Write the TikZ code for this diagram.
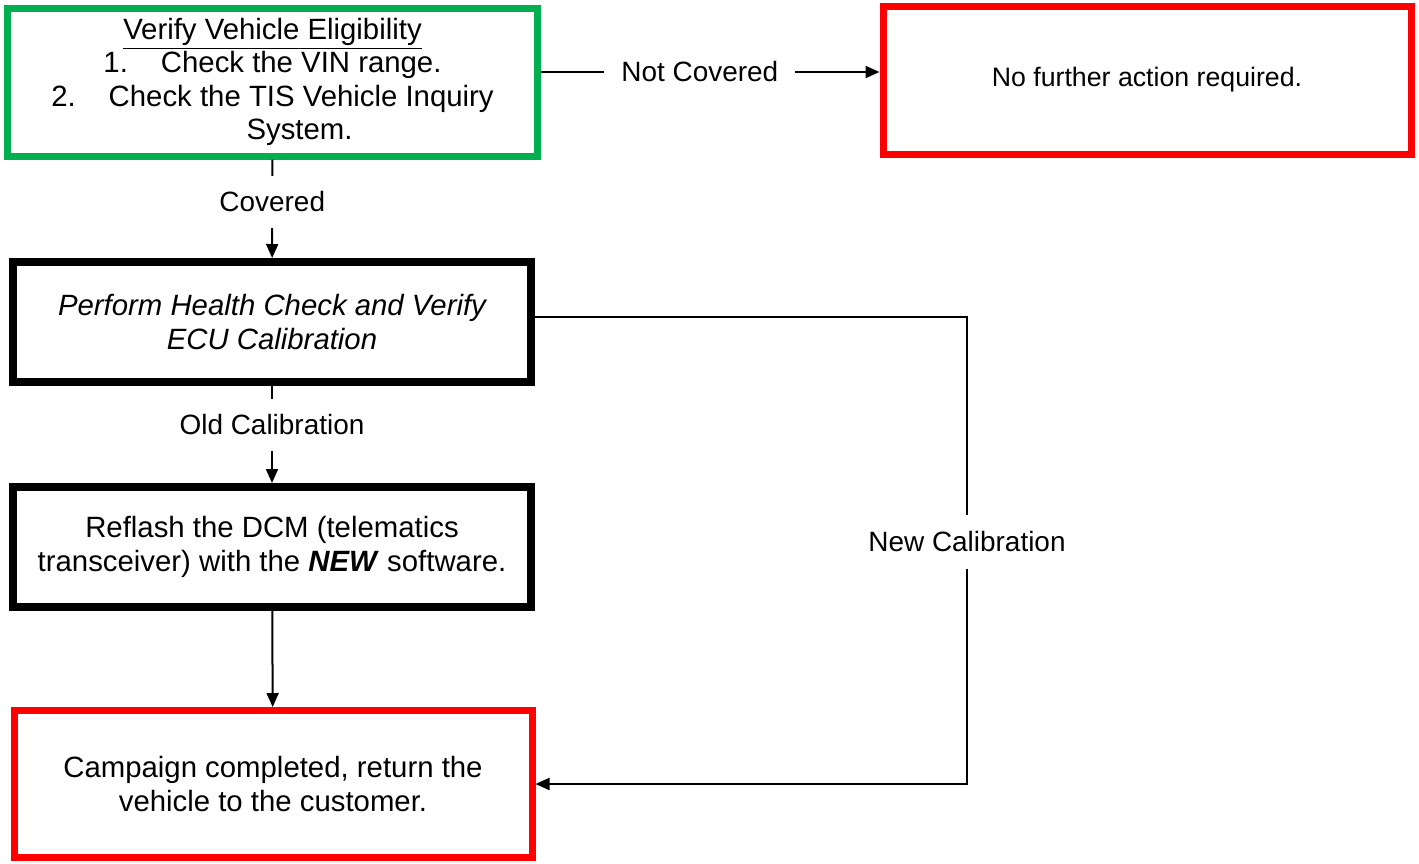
\documentclass[tikz,border=0pt]{standalone}
\usepackage{fontspec}
\setmainfont{Liberation Sans}
\usetikzlibrary{arrows.meta}
\definecolor{okgreen}{RGB}{0,176,80}
\definecolor{stopred}{RGB}{255,0,0}

\begin{document}
\begin{tikzpicture}[>={Triangle[length=0.28cm,width=0.24cm]}, font=\fontsize{15.9}{19}\selectfont,
  box/.style={draw, align=center, inner sep=0pt, font=\fontsize{16.7}{19}\selectfont},
  greenbox/.style={box, draw=okgreen, line width=0.14cm},
  redbox/.style={box, draw=stopred, line width=0.14cm},
  blackbox/.style={box, draw=black, line width=0.16cm, minimum width=10.36cm, minimum height=2.4cm},
  flow/.style={line width=0.04cm},
  lbl/.style={fill=white, inner xsep=0.34cm, inner ysep=0.32cm}]
  \useasboundingbox (0,0) rectangle (28.38,-17.26);
  \node[greenbox, minimum width=10.58cm, minimum height=2.96cm] (elig) at (5.45,-1.64) {\underline{Verify Vehicle Eligibility}\\1.\hspace{0.66cm}Check the VIN range.\\2.\hspace{0.66cm}Check the TIS Vehicle Inquiry\\\hspace{1.08cm}System.};
  \node[redbox, minimum width=10.56cm, minimum height=2.96cm, font=\fontsize{15.2}{19}\selectfont] (nofurther) at (22.94,-1.60) {No further action required.};
  \node[blackbox] (perf) at (5.44,-6.44) {\itshape Perform Health Check and Verify\\\itshape ECU Calibration};
  \node[blackbox] (reflash) at (5.44,-10.94) {Reflash the DCM (telematics\\transceiver) with the \textbf{\textit{NEW}} software.};
  \node[redbox, minimum width=10.36cm, minimum height=2.94cm] (done) at (5.46,-15.68) {Campaign completed, return the\\vehicle to the customer.};
  \node[lbl] (newcal) at (19.34,-10.84) {New Calibration};
  \draw[flow, ->] ([yshift=0.2cm]elig.east) -- node[lbl, pos=0.47] {Not Covered} ([yshift=0.16cm]nofurther.west);
  \draw[flow, ->] (elig) -- node[lbl, pos=0.43] {Covered} (perf);
  \draw[flow, ->] (perf) -- node[lbl, pos=0.40] {Old Calibration} (reflash);
  \draw[flow, ->] (reflash) -- (done);
  \draw[flow] ([yshift=0.1cm]perf.east) -| (newcal.north);
  \draw[flow, ->] (newcal.south) |- (done.east);
\end{tikzpicture}
\end{document}
